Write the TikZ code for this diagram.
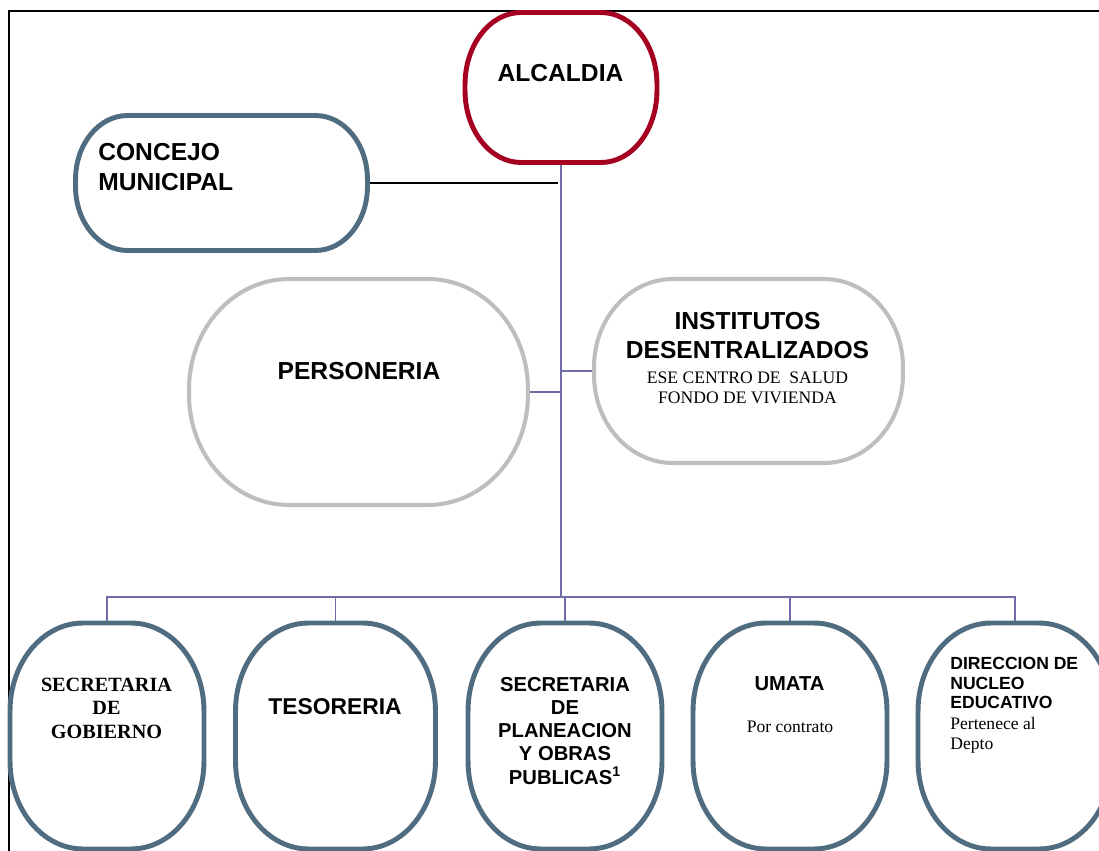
\documentclass[tikz,border=0pt]{standalone}
\usepackage{fontspec}
\setmainfont{Liberation Serif}
\setsansfont{Liberation Sans}
\usetikzlibrary{positioning,backgrounds,calc}

\definecolor{mayorred}{RGB}{165,0,33}
\definecolor{slateblue}{RGB}{80,108,128}
\definecolor{softgray}{RGB}{190,190,190}
\definecolor{linkpurple}{RGB}{112,108,170}

% outline with elliptic corners: node, x radius, y radius, style
\newcommand{\softframe}[4]{%
  \draw[#4]
    ($(#1.north west)+(#2,0)$) -- ($(#1.north east)+(-#2,0)$)
    .. controls ($(#1.north east)+(-0.4477*#2,0)$) and ($(#1.north east)+(0,0.4477*#3)$) .. ($(#1.north east)+(0,#3)$)
    -- ($(#1.south east)+(0,-#3)$)
    .. controls ($(#1.south east)+(0,-0.4477*#3)$) and ($(#1.south east)+(-0.4477*#2,0)$) .. ($(#1.south east)+(-#2,0)$)
    -- ($(#1.south west)+(#2,0)$)
    .. controls ($(#1.south west)+(0.4477*#2,0)$) and ($(#1.south west)+(0,-0.4477*#3)$) .. ($(#1.south west)+(0,-#3)$)
    -- ($(#1.north west)+(0,#3)$)
    .. controls ($(#1.north west)+(0,0.4477*#3)$) and ($(#1.north west)+(0.4477*#2,0)$) .. cycle;
}

\begin{document}
\begin{tikzpicture}[
    x=0.02cm, y=-0.02cm,
    % Shapes of the chart
    unitbox/.style={
        rectangle,
        inner sep=0pt,
        outer sep=0pt
    },
    mayorline/.style={draw=mayorred, fill=white, line width=2.8pt},
    slateline/.style={draw=slateblue, fill=white, line width=2.8pt},
    grayline/.style={draw=softgray, fill=white, line width=2.3pt},
    deptbox/.style={
        unitbox,
        minimum width=3.88cm,
        minimum height=4.52cm
    },
    % Texts
    titletxt/.style={inner sep=0pt, align=center, font=\sffamily\bfseries\fontsize{14}{16.5}\selectfont},
    depttxt/.style={inner sep=0pt, align=center, font=\sffamily\bfseries\fontsize{11.5}{13.2}\selectfont},
    notetxt/.style={inner sep=0pt, align=center, font=\rmfamily\fontsize{10}{11.3}\selectfont},
    % Lines
    linkline/.style={draw=linkpurple, line width=0.8pt},
    councilline/.style={draw=black, line width=0.7pt},
    frameline/.style={draw=black, line width=1.1pt}
]
\useasboundingbox (0,0) rectangle (1099,851);

% Units
\node[unitbox, minimum width=3.84cm, minimum height=3cm] (alcaldia) at (561,87.5) {};
\node[unitbox, minimum width=5.84cm, minimum height=2.7cm] (concejo) at (221.5,183) {};
\node[unitbox, minimum width=6.78cm, minimum height=4.52cm] (personeria) at (358.5,392) {};
\node[unitbox, minimum width=6.18cm, minimum height=3.68cm] (institutos) at (748.5,371) {};

\node[deptbox] (gobierno) at (107,736) {};
\node[deptbox, minimum width=4cm] (tesoreria) at (335.5,736) {};
\node[deptbox] (planeacion) at (565,736) {};
\node[deptbox] (umata) at (790,736) {};
\node[deptbox] (direccion) at (1015,736) {};

% Connections
\begin{scope}[on background layer]
    \draw[frameline] (1099,11) -- (9,11) -- (9,851);
    \coordinate (bus) at (561,597);
    \draw[linkline] (alcaldia.south) -- (bus);
    \draw[councilline] (concejo.east) -- ($(concejo.east -| bus)+(-3,0)$);
    \draw[linkline] (personeria.east) -- (personeria.east -| bus);
    \draw[linkline] (institutos.west) -- (institutos.west -| bus);
    \foreach \dept in {gobierno,tesoreria,planeacion,umata,direccion}
        \draw[linkline] (bus) -| (\dept.north);
\end{scope}

% Outlines
\softframe{alcaldia}{56}{72}{mayorline}
\softframe{concejo}{52}{64}{slateline}
\softframe{personeria}{100}{110}{grayline}
\softframe{institutos}{79}{88}{grayline}
\foreach \dept in {gobierno,tesoreria,planeacion,umata,direccion}
    \softframe{\dept}{73}{88}{slateline};

% Labels
\node[titletxt] (alcaldia_txt) at (560.5,73) {ALCALDIA};
\node[titletxt, anchor=west, align=left, font=\sffamily\bfseries\fontsize{14}{17.3}\selectfont]
    (concejo_txt) at (98,166.75) {CONCEJO\\MUNICIPAL};
\node[titletxt] (personeria_txt) at (359,371) {PERSONERIA};
\node[titletxt] (institutos_txt) at (747.5,336) {INSTITUTOS\\DESENTRALIZADOS};
\node[notetxt] (institutos_sub) at (747.5,387.5) {ESE CENTRO DE \ SALUD\\FONDO DE VIVIENDA};

\node[inner sep=0pt, align=center, font=\rmfamily\bfseries\fontsize{11.5}{13.2}\selectfont]
    (gobierno_txt) at (106.5,708.25) {SECRETARIA\\DE\\GOBIERNO};
\node[depttxt, font=\sffamily\bfseries\fontsize{13}{15}\selectfont] (tesoreria_txt) at (335,706.5) {TESORERIA};
\node[depttxt] (planeacion_txt) at (565,730.75)
    {SECRETARIA\\DE\\PLANEACION\\Y OBRAS\\PUBLICAS\textsuperscript{1}};
\node[depttxt] (umata_txt) at (789.5,684) {UMATA};
\node[notetxt] (umata_sub) at (790,726.5) {Por contrato};
\node[depttxt, anchor=west, align=left, font=\sffamily\bfseries\fontsize{10}{11.3}\selectfont]
    (direccion_txt) at (950,683) {DIRECCION DE\\NUCLEO\\EDUCATIVO};
\node[notetxt, anchor=west, align=left] (direccion_sub) at (950,735) {Pertenece al\\Depto};

\end{tikzpicture}
\end{document}
